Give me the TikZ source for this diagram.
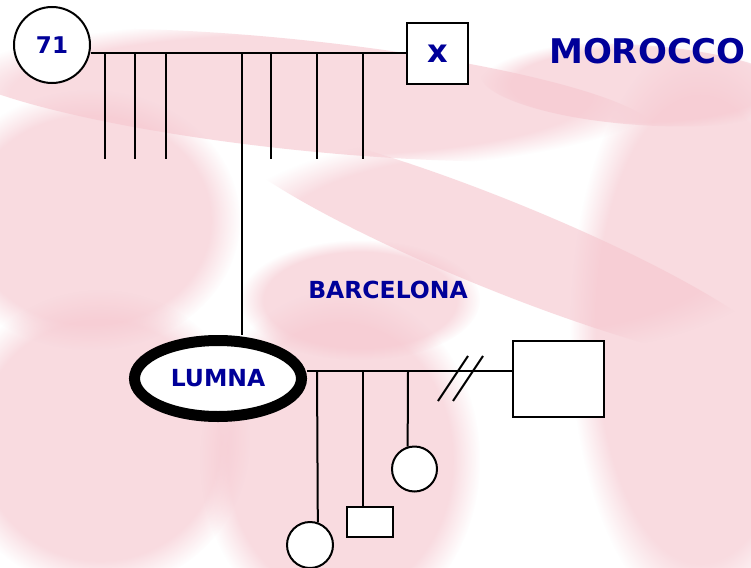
\documentclass[tikz,border=0pt]{standalone}
\usepackage{fontspec}
\setmainfont{DejaVu Sans}
\usetikzlibrary{shapes.geometric,fadings}
\definecolor{navy}{RGB}{0,0,153}
\definecolor{bgpink}{RGB}{246,200,208}
\begin{document}
\begin{tikzpicture}[x=1pt,y=-1pt,line width=2pt,
  person/.style={draw=black,fill=white,inner sep=0pt,line width=2pt},
  lbl/.style={text=navy,inner sep=0pt},
  tie/.style={draw=black,line width=2pt},
  blob/.style={fill=bgpink,draw=none,path fading=circle with fuzzy edge 20 percent,fill opacity=0.65}]
\useasboundingbox (0,0) rectangle (751,567);
\fill[white] (0,0) rectangle (751,567);
% faded background
\fill[blob] (90,220) ellipse (150 and 130);
\fill[blob] (100,440) ellipse (150 and 150);
\fill[blob] (340,460) ellipse (140 and 170);
\fill[blob] (700,330) ellipse (130 and 290);
\fill[blob,rotate around={-6:(300,95)}] (300,95) ellipse (360 and 55);
\fill[blob,rotate around={-4:(640,85)}] (640,85) ellipse (160 and 40);
\fill[blob,rotate around={-22:(500,245)}] (500,245) ellipse (300 and 45);
\fill[blob] (360,300) ellipse (120 and 60);
% generation 1
\node[person,circle,minimum size=76pt,lbl,font=\bfseries\fontsize{23}{23}\selectfont] (gf) at (52,45) {71};
\node[person,rectangle,minimum width=61pt,minimum height=61pt,lbl,font=\bfseries\fontsize{32}{32}\selectfont] (gm) at (437.5,53.5) {x};
\draw[tie] (gf.east |- 0,53) coordinate (g1l) -- (gm.west |- 0,53) coordinate (g1r);
\foreach \x/\n in {105/a,135/b,166/c,271/d,317/e,363/f}{
  \coordinate (s\n t) at (\x,53);
  \coordinate (s\n b) at (\x,159);
  \draw[tie] (s\n t) -- (s\n b);
}
\coordinate (lt) at (242,53);
% generation 2
\node[person,ellipse,minimum width=167pt,minimum height=76pt,line width=11pt,lbl,font=\bfseries\fontsize{23.5}{23.5}\selectfont] (lumna) at (218,378.5) {LUMNA};
\draw[tie] (lt) -- (lumna.north -| lt);
\node[person,rectangle,minimum width=91pt,minimum height=76pt] (husb) at (558.5,379) {};
\coordinate (ml) at (307,371);
\draw[tie] (ml) -- (husb.west |- ml);
\draw[tie] (438,401) coordinate (d1a) -- (468,356) coordinate (d1b);
\draw[tie] (453,401) coordinate (d2a) -- (483,356) coordinate (d2b);
% generation 3
\node[person,circle,minimum size=46pt] (c1) at (310,545) {};
\node[person,rectangle,minimum width=46pt,minimum height=30pt] (c2) at (370,522) {};
\node[person,circle,minimum size=45pt] (c3) at (414.5,469) {};
\coordinate (m1) at (317,371);
\coordinate (m2) at (363,371);
\coordinate (m3) at (408,371);
\draw[tie] (m1) -- (c1.71);
\draw[tie] (m2) -- (c2.north -| m2);
\draw[tie] (m3) -- (c3.107);
% labels
\node[lbl,font=\bfseries\fontsize{34}{34}\selectfont] (mor) at (647.5,51) {MOROCCO};
\node[lbl,font=\bfseries\fontsize{23.5}{23.5}\selectfont] (bar) at (388,290) {BARCELONA};
\end{tikzpicture}
\end{document}
